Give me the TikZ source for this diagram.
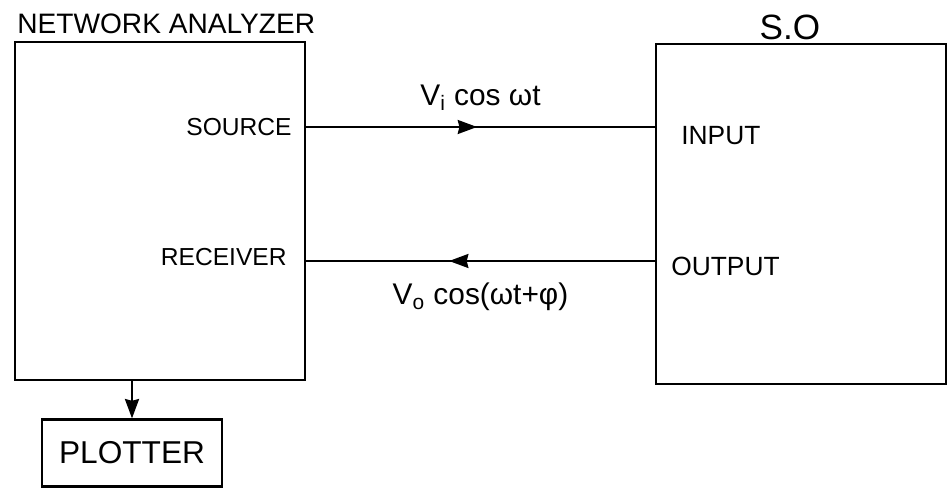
\documentclass[tikz,border=0pt]{standalone}
\usepackage{fontspec}
\setmainfont{Liberation Sans}
\usetikzlibrary{arrows.meta,decorations.markings}

\begin{document}
\begin{tikzpicture}[x=0.02cm,y=-0.02cm,
    box/.style={draw,line width=1.3pt,inner sep=0pt},
    txt/.style={inner sep=0pt,font=\fontsize{#1}{#1}\selectfont},
    txt/.default=14,
    tip/.style={-{Stealth[length=11pt,width=8pt,inset=1pt]}},
    midarrow/.style={line width=1.1pt,postaction={decorate},
      decoration={markings,mark=at position #1 with {\arrow{Stealth[length=11pt,width=8pt,inset=1pt]}}}}]
    \useasboundingbox (0,0) rectangle (950,492);
    % network analyzer
    \node[box,minimum width=5.8cm,minimum height=6.76cm] (na) at (160,211) {};
    \node[txt=16,anchor=south west] (natitle) at (17,34) {NETWORK ANALYZER};
    \node[txt,anchor=east] (src) at (292,127) {SOURCE};
    \node[txt,anchor=east] (rcv) at (287,257) {RECEIVER};
    % S.O box
    \node[box,minimum width=5.8cm,minimum height=6.8cm] (so) at (801,214) {};
    \node[txt=20,anchor=south] (sotitle) at (790,40) {S.O};
    \node[txt=15,anchor=west] (inp) at (681,136) {INPUT};
    \node[txt=15,anchor=west] (outp) at (671,266) {OUTPUT};
    % plotter
    \node[box,minimum width=3.6cm,minimum height=1.34cm,font=\fontsize{18}{18}\selectfont] (plt) at (132,453) {PLOTTER};
    % signals
    \coordinate (srcpin) at (na.east |- src.east);
    \coordinate (inpin) at (so.west |- src.east);
    \coordinate (rcvpin) at (na.east |- 0,261);
    \coordinate (outpin) at (so.west |- 0,261);
    \draw[midarrow=0.49] (srcpin) -- (inpin) node[txt=17,midway,above=9pt] (vin) {V\textsubscript{i} cos ωt};
    \draw[midarrow=0.59] (outpin) -- (rcvpin) node[txt=17,midway,below=12pt] (vout) {V\textsubscript{o} cos(ωt+φ)};
    \draw[line width=1.3pt,tip] (na.south -| plt.north) -- (plt.north);
\end{tikzpicture}
\end{document}
